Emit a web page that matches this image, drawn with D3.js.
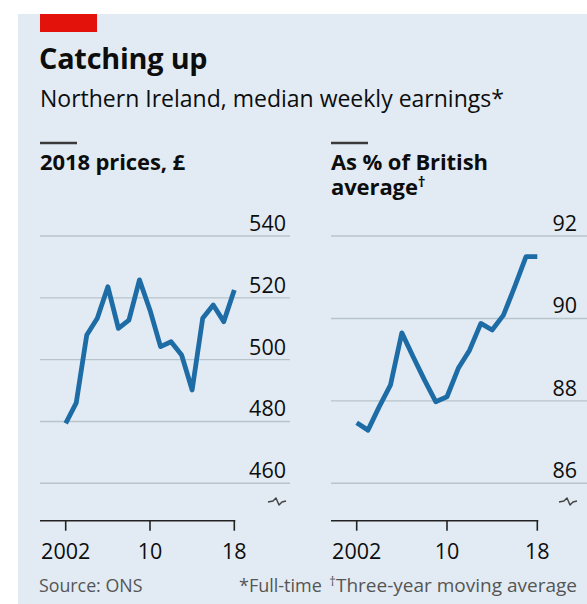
<!DOCTYPE html>
<html><head><meta charset="utf-8">
<script src="https://cdn.jsdelivr.net/npm/d3@7"></script>
<style>body{margin:0;background:#fff}text{font-family:"Open Sans",Lato,sans-serif}</style>
</head><body><svg id="c" width="587" height="604"></svg>
<script>
const years = d3.range(2002, 2019);
const pricesGBP = [479.4, 486, 508, 513.4, 523.6, 510.1, 512.8, 525.8, 516, 504.2, 505.8, 501.5, 490.2, 513.4, 517.7, 512.3, 522.5];
const pctBritish = [87.47, 87.29, 87.86, 88.39, 89.65, 89.07, 88.51, 87.98, 88.1, 88.79, 89.23, 89.88, 89.72, 90.08, 90.77, 91.5, 91.5];
const leftTicks = [460, 480, 500, 520, 540];
const rightTicks = [86, 88, 90, 92];
const xTicks = [2002, 2010, 2018];
const xTickLabels = ["2002", "10", "18"];

const svg = d3.select("#c");
svg.append("rect").attr("x",18).attr("y",14).attr("width",569).attr("height",590).attr("fill","#e2ebf3");
svg.append("rect").attr("x",40).attr("y",14).attr("width",57).attr("height",18).attr("fill","#e3120b");
svg.append("text").attr("x",39).attr("y",69).attr("font-size",28.8).attr("font-weight",700).attr("letter-spacing",-0.2).attr("fill","#0d0d0d").text("Catching up");
svg.append("text").attr("x",40).attr("y",107).attr("font-size",23).attr("fill","#0d0d0d").text("Northern Ireland, median weekly earnings*");

function panel(o){
  const g = svg.append("g");
  g.append("line").attr("x1",o.gx0).attr("x2",o.gx0+37).attr("y1",143).attr("y2",143).attr("stroke","#3a3a3a").attr("stroke-width",2.5);
  const tx = g.append("text").attr("x",o.gx0).attr("y",170).attr("font-size",22).attr("font-weight",700).attr("letter-spacing",-0.1).attr("fill","#0d0d0d");
  o.title.forEach((t,i)=>{
    tx.append("tspan").attr("x",o.gx0).attr("y",170+i*25).text(t);
  });
  if (o.dagger) tx.append("tspan").attr("dy",-8).attr("font-size",15).text("†");
  const x = d3.scaleLinear().domain([2002,2018]).range(o.xr);
  const y = d3.scaleLinear().domain(o.yd).range([483.3,236]);
  g.selectAll(".grid").data(o.ticks).join("line")
    .attr("x1",o.gx0).attr("x2",o.gx1).attr("y1",d=>y(d)).attr("y2",d=>y(d))
    .attr("stroke","#b9c3ca").attr("stroke-width",1.4);
  g.selectAll(".yl").data(o.ticks).join("text")
    .attr("x",o.lx).attr("y",d=>y(d)-5).attr("text-anchor","end").attr("font-size",21.5).attr("fill","#0d0d0d").text(d=>d);
  const ax = g.append("g").attr("transform","translate(0,520.7)");
  ax.append("line").attr("x1",o.gx0).attr("x2",x(2018)+1).attr("stroke","#222").attr("stroke-width",1.6);
  ax.selectAll(".tk").data(xTicks).join("line").attr("x1",d=>x(d)).attr("x2",d=>x(d)).attr("y1",0).attr("y2",10).attr("stroke","#222").attr("stroke-width",1.6);
  ax.selectAll(".tl").data(xTicks).join("text").attr("x",d=>x(d)).attr("y",38).attr("text-anchor","middle").attr("font-size",21.5).attr("fill","#0d0d0d").text((d,i)=>xTickLabels[i]);
  const bx = o.lx-9, by = 502;
  g.append("path").attr("d",`M${bx-9},${by} L${bx-4},${by-1} L${bx-1},${by-4} L${bx+2},${by+3} L${bx+5},${by} L${bx+9},${by-1}`)
    .attr("fill","none").attr("stroke","#444").attr("stroke-width",1.5).attr("stroke-linejoin","round");
  const line = d3.line().x((d,i)=>x(years[i])).y(d=>y(d));
  g.append("path").datum(o.values).attr("d",line).attr("fill","none").attr("stroke","#1e6ca6").attr("stroke-width",4.8).attr("stroke-linejoin","round").attr("stroke-linecap","butt");
}
panel({gx0:40,gx1:290,lx:286,xr:[65.7,234.3],yd:[460,540],ticks:leftTicks,values:pricesGBP,title:["2018 prices, £"]});
panel({gx0:331,gx1:587,lx:577,xr:[356.7,537.3],yd:[86,92],ticks:rightTicks,values:pctBritish,title:["As % of British","average"],dagger:true});

const foot = svg.append("g");
foot.append("text").attr("x",39).attr("y",592).attr("font-size",17.8).attr("fill","#555").text("Source: ONS");
foot.append("text").attr("x",239).attr("y",592).attr("font-size",18).attr("fill","#555").text("*Full-time");
const ft = foot.append("text").attr("x",577).attr("y",592).attr("text-anchor","end").attr("font-size",19).attr("fill","#555");
ft.append("tspan").attr("font-size",13).attr("dy",-6).text("†");
ft.append("tspan").attr("dy",6).text("Three-year moving average");
</script></body></html>
